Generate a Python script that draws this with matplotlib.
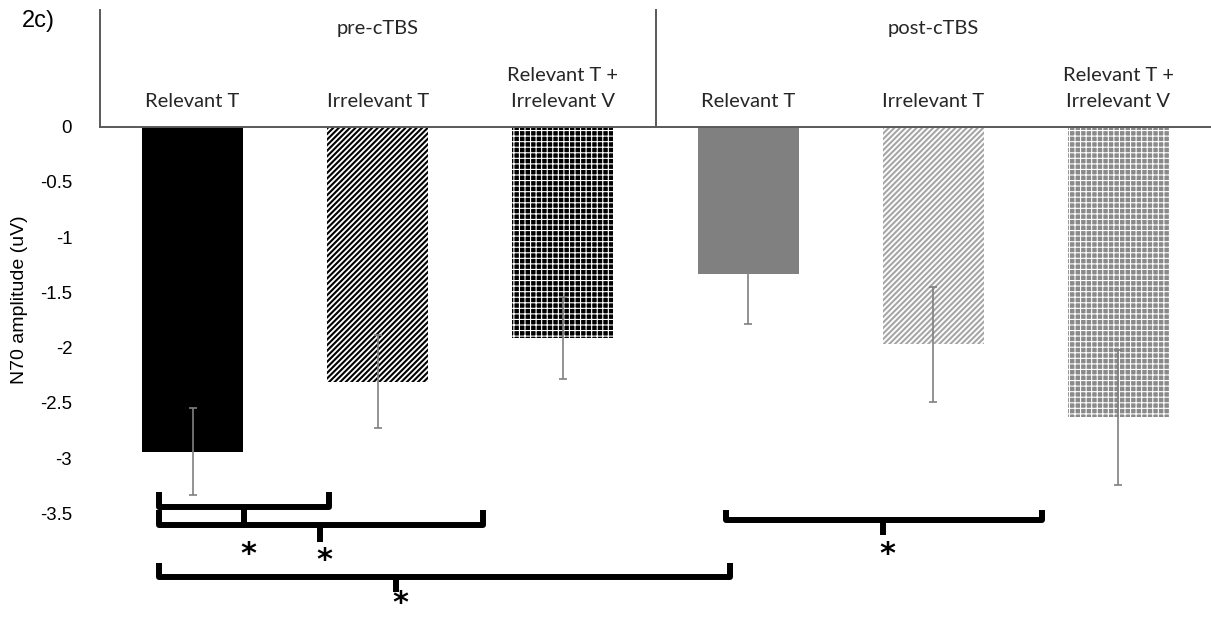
import matplotlib
matplotlib.use("Agg")
import matplotlib.pyplot as plt
from matplotlib.transforms import blended_transform_factory

# ---- data -------------------------------------------------------------
groups = ["pre-cTBS", "post-cTBS"]
conditions = ["Relevant T", "Irrelevant T", "Relevant T +\nIrrelevant V"]
pre_means = [-2.94, -2.31, -1.91]
pre_sems = [0.39, 0.42, 0.37]
post_means = [-1.33, -1.97, -2.63]
post_sems = [0.46, 0.52, 0.61]
y_ticks = [0, -0.5, -1, -1.5, -2, -2.5, -3, -3.5]
y_tick_labels = ["0", "-0.5", "-1", "-1.5", "-2", "-2.5", "-3", "-3.5"]

means = pre_means + post_means
sems = pre_sems + post_sems
labels = conditions * 2

# bar appearance: (face, hatch colour, hatch, hatch line width)
styles = [
    ("black", "black", None, 1.0),
    ("white", "black", "//////", 1.5),
    ("black", "white", "+++", 0.8),
    ("#808080", "#808080", None, 1.0),
    ("white", "#a6a6a6", "//////", 1.5),
    ("#8a8a8a", "white", "+++", 0.8),
]

# significance brackets: (left, right, middle, top, line, tip, star y)
brackets = [
    (-0.18, 0.735, 0.28, -3.31, -3.44, -3.58, -3.84),
    (-0.18, 1.57, 0.69, -3.47, -3.60, -3.76, -3.90),
    (-0.18, 2.90, 1.10, -3.95, -4.07, -4.21, -4.29),
    (2.88, 4.59, 3.73, -3.47, -3.56, -3.69, -3.84),
]

# ---- figure -------------------------------------------------------------
W, H = 1211, 619
fig = plt.figure(figsize=(W / 100, H / 100), dpi=100)
ax = fig.add_axes([100 / W, 1 - 513.5 / H, 1111 / W, 387 / H])

cat_font = "Lato"
num_font = "Liberation Sans"

x = list(range(len(means)))
for xi, m, (face, hcol, hatch, hlw) in zip(x, means, styles):
    with plt.rc_context({"hatch.linewidth": hlw}):
        ax.bar(xi, m, width=0.545, color=face, edgecolor=hcol,
               hatch=hatch, linewidth=0, zorder=2)

ax.errorbar(x, means, yerr=sems, fmt="none", ecolor="#808080",
            elinewidth=1.2, capsize=3, capthick=1.2, zorder=3)

ax.set_xlim(-0.5, 5.5)
ax.set_ylim(-3.5, 0)

for side in ("left", "right", "bottom"):
    ax.spines[side].set_visible(False)
ax.spines["top"].set_color("#595959")
ax.spines["top"].set_linewidth(1.4)

ax.xaxis.tick_top()
ax.set_xticks(x)
ax.set_xticklabels(labels, fontsize=14.5, family=cat_font, color="#262626",
                   linespacing=1.6)
ax.tick_params(axis="x", length=0, pad=12)

ax.set_yticks(y_ticks)
ax.set_yticklabels(y_tick_labels, fontsize=13.4, family=num_font)
ax.tick_params(axis="y", length=0, pad=20)

trans = blended_transform_factory(ax.transData, ax.transAxes)
# group separators above the category axis
for xs in (-0.5, 2.5):
    ax.plot([xs, xs], [1.0, 1.301], transform=trans, color="#595959",
            lw=1.4, clip_on=False)
for gi, g in enumerate(groups):
    ax.text(1 + 3 * gi, 1.254, g, transform=trans, ha="center", va="center",
            fontsize=14.5, family=cat_font, color="#262626")

fig.text(20 / W, 1 - 300 / H, "N70 amplitude (uV)", rotation=90,
         ha="center", va="center", fontsize=14, family=num_font)
fig.text(22 / W, 1 - 21 / H, "2c)", ha="left", va="center",
         fontsize=17, family=num_font)

# significance brackets with asterisks
for left, right, mid, top, line, tip, star in brackets:
    ax.plot([left, left, right, right], [top, line, line, top],
            color="black", lw=4.3, solid_joinstyle="round",
            solid_capstyle="butt", clip_on=False, zorder=4)
    ax.plot([mid, mid], [line, tip], color="black", lw=4.3,
            solid_capstyle="butt", clip_on=False, zorder=4)
    ax.text(mid + 0.02, star, "*", ha="center", va="center_baseline",
            fontsize=22, fontweight="bold", family="DejaVu Sans",
            clip_on=False)

fig.savefig("out.png", dpi=100)
